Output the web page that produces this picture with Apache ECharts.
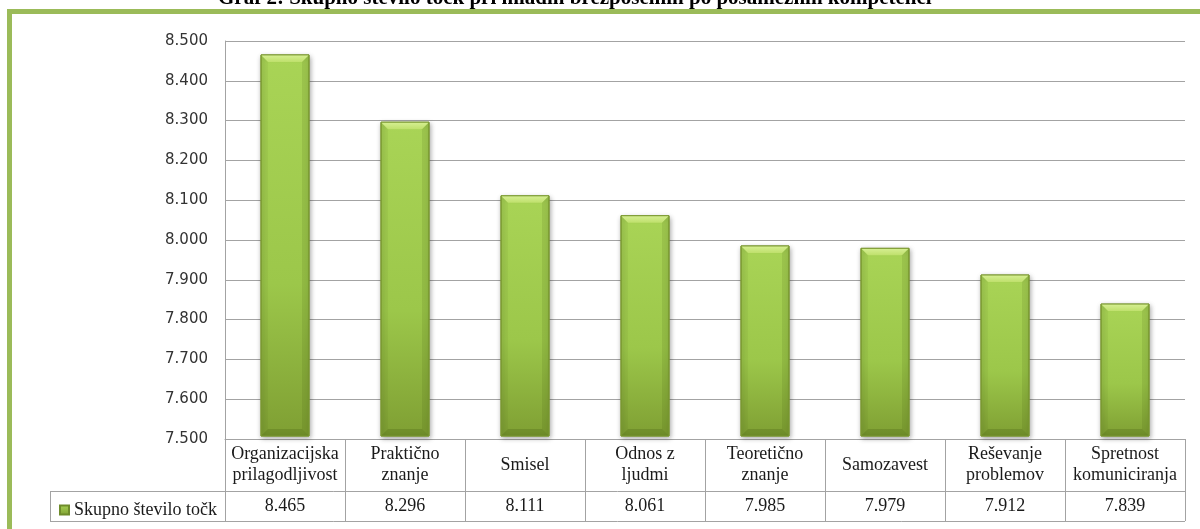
<!DOCTYPE html>
<html>
<head>
<meta charset="utf-8">
<title>Skupno število točk</title>
<script src="https://cdn.jsdelivr.net/npm/echarts@6/dist/echarts.min.js"></script>
<style>
  html, body { margin: 0; padding: 0; background: #fff; }
  #chart { width: 1200px; height: 529px; }
</style>
</head>
<body>
<div id="chart"></div>
<script>
// Competences and their total scores
const categories = [
  'Organizacijska\nprilagodljivost',
  'Praktično\nznanje',
  'Smisel',
  'Odnos z\nljudmi',
  'Teoretično\nznanje',
  'Samozavest',
  'Reševanje\nproblemov',
  'Spretnost\nkomuniciranja'
];
const scores = [8465, 8296, 8111, 8061, 7985, 7979, 7912, 7839];
const seriesName = 'Skupno število točk';
const titleText = 'Graf 2: Skupno število točk pri mladih brezposelnih po posameznih kompetenci';
const axisMin = 7500;
const axisMax = 8500;
const axisStep = 100;

// Slovene number format: dot as thousands separator
const fmt = v => (v / 1000).toFixed(3);

const GRID = { left: 225, right: 15, top: 41, bottom: 90 };
const GRID_COLOR = '#a3a3a3';
const SERIF = '"Liberation Serif", "Times New Roman", serif';

const chart = echarts.init(document.getElementById('chart'), null, { renderer: 'canvas' });

// Bevelled green column drawn from the axis scale
function renderBar(params, api) {
  const i = api.value(0);
  const top = api.coord([i, api.value(1)]);
  const base = api.coord([i, axisMin]);
  const w = api.size([1, 0])[0] * 0.4;
  const x0 = top[0] - w / 2, x1 = top[0] + w / 2;
  const y0 = top[1], y1 = base[1] - 3;
  const b = 7;
  return {
    type: 'group',
    children: [
      {
        type: 'rect',
        shape: { x: x0, y: y0, width: w, height: y1 - y0 },
        style: {
          fill: new echarts.graphic.LinearGradient(0, 0, 0, 1, [
            { offset: 0, color: '#a9d456' },
            { offset: 0.6, color: '#9cc74a' },
            { offset: 1, color: '#7f9f33' }
          ]),
          stroke: '#7a9830',
          lineWidth: 1,
          shadowBlur: 5,
          shadowColor: 'rgba(0,0,0,0.35)',
          shadowOffsetX: 1,
          shadowOffsetY: 2
        }
      },
      {
        type: 'polygon',
        shape: { points: [[x0, y0], [x1, y0], [x1 - b, y0 + b], [x0 + b, y0 + b]] },
        style: {
          fill: new echarts.graphic.LinearGradient(0, 0, 0, 1, [
            { offset: 0, color: '#d6ef93' },
            { offset: 1, color: '#bfe06c' }
          ])
        }
      },
      {
        type: 'polygon',
        shape: { points: [[x0, y0], [x0 + b, y0 + b], [x0 + b, y1 - b], [x0, y1]] },
        style: { fill: 'rgba(60,80,10,0.05)' }
      },
      {
        type: 'polygon',
        shape: { points: [[x1, y0], [x1 - b, y0 + b], [x1 - b, y1 - b], [x1, y1]] },
        style: { fill: 'rgba(40,60,0,0.10)' }
      },
      {
        type: 'polygon',
        shape: { points: [[x0, y1], [x0 + b, y1 - b], [x1 - b, y1 - b], [x1, y1]] },
        style: { fill: 'rgba(40,60,0,0.18)' }
      },
      {
        type: 'rect',
        shape: { x: x0, y: y0, width: w, height: y1 - y0 },
        style: { fill: 'none', stroke: '#7a9830', lineWidth: 1 }
      }
    ]
  };
}

const tableLeft = 50;
const tableRight = 1200 - GRID.right;
const plotBottom = 529 - GRID.bottom;
const rowSplit = plotBottom + 52;
const tableBottom = rowSplit + 30;

const option = {
  animation: false,
  backgroundColor: '#ffffff',
  grid: { left: GRID.left, right: GRID.right, top: GRID.top, bottom: GRID.bottom, containLabel: false },
  legend: {
    data: [seriesName],
    left: 54,
    top: rowSplit + 5,
    itemWidth: 9,
    itemHeight: 9,
    itemGap: 2,
    icon: 'rect',
    textStyle: { fontFamily: SERIF, fontSize: 18, color: '#1a1a1a' }
  },
  xAxis: [
    {
      type: 'category',
      data: categories,
      position: 'bottom',
      axisLine: { show: true, lineStyle: { color: GRID_COLOR, width: 1 } },
      axisTick: { show: true, length: tableBottom - plotBottom, lineStyle: { color: GRID_COLOR } },
      axisLabel: {
        interval: 0,
        margin: 26,
        verticalAlign: 'middle',
        fontFamily: SERIF,
        fontSize: 18,
        lineHeight: 21,
        color: '#1a1a1a'
      },
      splitLine: { show: false }
    },
    {
      type: 'category',
      data: categories,
      position: 'bottom',
      offset: 0,
      axisLine: { show: false },
      axisTick: { show: false },
      axisLabel: {
        interval: 0,
        margin: 67,
        verticalAlign: 'middle',
        fontFamily: SERIF,
        fontSize: 18,
        color: '#1a1a1a',
        formatter: (v, idx) => fmt(scores[idx])
      },
      splitLine: { show: false }
    }
  ],
  yAxis: {
    type: 'value',
    min: axisMin,
    max: axisMax,
    interval: axisStep,
    axisLine: { show: true, lineStyle: { color: GRID_COLOR } },
    axisTick: { show: false },
    axisLabel: {
      margin: 17,
      fontFamily: '"DejaVu Sans", Verdana, sans-serif',
      fontSize: 15,
      color: '#333333',
      formatter: v => fmt(v)
    },
    splitLine: { show: true, lineStyle: { color: GRID_COLOR, width: 1 } }
  },
  series: [
    {
      name: seriesName,
      type: 'custom',
      xAxisIndex: 0,
      renderItem: renderBar,
      itemStyle: {
        color: new echarts.graphic.LinearGradient(0, 0, 0, 1, [
          { offset: 0, color: '#a9d456' },
          { offset: 1, color: '#7f9f33' }
        ]),
        borderColor: '#6f8c2b',
        borderWidth: 1
      },
      encode: { x: 0, y: 1 },
      data: scores.map((s, i) => [i, s])
    }
  ],
  graphic: [
    // page frame
    {
      type: 'rect',
      z: -10,
      shape: { x: 9.5, y: 11.5, width: 1400, height: 700 },
      style: { fill: '#ffffff', stroke: '#9bbb59', lineWidth: 5 }
    },
    // caption above the frame
    {
      type: 'text',
      left: 218,
      top: -12,
      style: {
        text: titleText,
        fontFamily: SERIF,
        fontWeight: 'bold',
        fontSize: 21,
        fill: '#000000'
      }
    },
    // data table rules
    {
      type: 'line',
      shape: { x1: tableLeft, y1: rowSplit + 0.5, x2: tableRight, y2: rowSplit + 0.5 },
      style: { stroke: GRID_COLOR, lineWidth: 1 }
    },
    {
      type: 'line',
      shape: { x1: tableLeft, y1: tableBottom + 0.5, x2: tableRight, y2: tableBottom + 0.5 },
      style: { stroke: GRID_COLOR, lineWidth: 1 }
    },
    {
      type: 'line',
      shape: { x1: tableLeft + 0.5, y1: rowSplit, x2: tableLeft + 0.5, y2: tableBottom },
      style: { stroke: GRID_COLOR, lineWidth: 1 }
    }
  ]
};

chart.setOption(option);
</script>
</body>
</html>
